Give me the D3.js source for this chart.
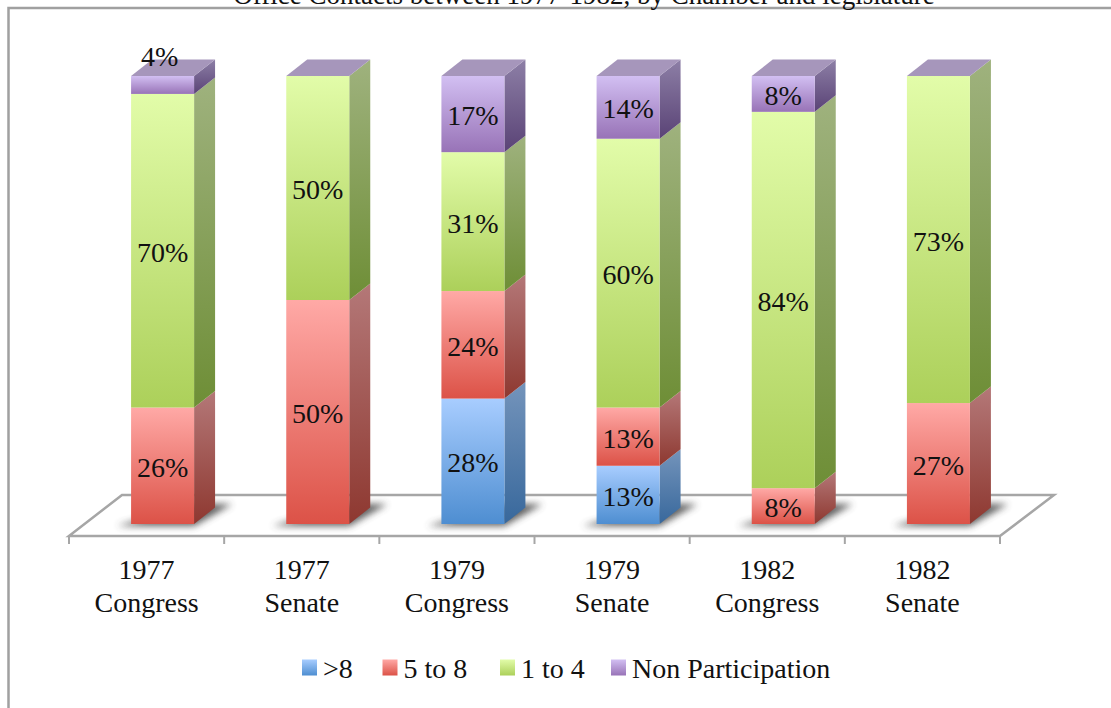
<!DOCTYPE html>
<html><head><meta charset="utf-8">
<script src="https://cdn.jsdelivr.net/npm/d3@7"></script>
<style>html,body{margin:0;padding:0;background:#fff;overflow:hidden}text{font-family:"Liberation Serif",serif;fill:#111}</style>
</head><body><svg id="c" width="1111" height="708"></svg>
<script>
const titleText = "Office Contacts between 1977-1982, by Chamber and legislature";
const categories = ["1977 Congress","1977 Senate","1979 Congress","1979 Senate","1982 Congress","1982 Senate"];
const seriesNames = [">8","5 to 8","1 to 4","Non Participation"];
const over8 = [0,0,28,13,0,0];
const five8 = [26,50,24,13,8,27];
const one4 = [70,50,31,60,84,73];
const nonPart = [4,0,17,14,8,0];
const frontTop = ["#a8cdff","#ffa9a6","#e2fca9","#d2bff2"];
const frontBot = ["#4e8ed1","#dc5247","#acd05a","#9873b7"];
const sideTop = ["#7494bb","#b47878","#9fb27e","#8d7fa6"];
const sideBot = ["#38689c","#8e3830","#6e8e36","#5a4376"];
const topFace = "#a696bb";

const seriesValues = [over8,five8,one4,nonPart];
const svg = d3.select("#c");
const x = d3.scaleBand().domain(categories).range([69,1000]);
const y = d3.scaleLinear().domain([0,100]).range([524,76]);
const barW = 63, dx = 21, dy = 16.5, barShift = 16;
const fontSize = 28;
const barL = c => x(c)+x.bandwidth()/2+barShift-barW/2;
const defs = svg.append("defs");
function grad(id,a,b){
  const g = defs.append("linearGradient").attr("id",id).attr("x1",0).attr("y1",0).attr("x2",0).attr("y2",1);
  g.append("stop").attr("offset",0).attr("stop-color",a);
  g.append("stop").attr("offset",1).attr("stop-color",b);
}
seriesNames.forEach((s,i)=>{grad("f"+i,frontTop[i],frontBot[i]);grad("s"+i,sideTop[i],sideBot[i]);});
defs.append("filter").attr("id","blur").attr("x","-30%").attr("y","-60%").attr("width","160%").attr("height","220%")
  .append("feGaussianBlur").attr("stdDeviation",3.5);

// frame
svg.append("path").attr("d","M8.5,708V8H1111").attr("fill","none").attr("stroke","#a0a0a0").attr("stroke-width",2.5);
// title, cut by the top edge as in the source
svg.append("text").attr("x",584).attr("y",3.5).attr("text-anchor","middle").attr("font-size",27).text(titleText);

// floor
const fy = y(0)+12, by = y(0)-29;
const x0 = x.range()[0], x1 = x.range()[1];
svg.append("polygon")
  .attr("points",[[x0,fy],[x0+53,by],[x1+54,by],[x1,fy]].join(" "))
  .attr("fill","#fff").attr("stroke","#a6a6a6").attr("stroke-width",2.5).attr("stroke-linejoin","miter");
const edges = categories.map(c=>x(c)).concat([x1]);
svg.selectAll("line.tick").data(edges).join("line").attr("class","tick")
  .attr("x1",d=>d).attr("x2",d=>d).attr("y1",fy).attr("y2",fy+8)
  .attr("stroke","#a6a6a6").attr("stroke-width",2);

// shadows
svg.selectAll("polygon.sh").data(categories).join("polygon").attr("class","sh")
  .attr("points",c=>{const l=barL(c);return [[l-14,y(0)+2],[l+barW,y(0)+2],[l+barW+38,y(0)-20],[l+barW,y(0)-20]].join(" ");})
  .attr("fill","#444").attr("opacity",.85).attr("filter","url(#blur)");

// bars
categories.forEach((c,ci)=>{
  const l = barL(c), r = l+barW;
  let acc = 0;
  const g = svg.append("g");
  seriesNames.forEach((s,si)=>{
    const v = seriesValues[si][ci];
    const y0 = y(acc), y1 = y(acc+v);
    acc += v;
    if(!v) return;
    g.append("polygon").attr("points",[[r,y0],[r+dx,y0-dy],[r+dx,y1-dy],[r,y1]].join(" "))
      .attr("fill",`url(#s${si})`);
    g.append("rect").attr("x",l).attr("y",y1).attr("width",barW).attr("height",y0-y1)
      .attr("fill",`url(#f${si})`);
  });
  const t = y(100);
  g.append("polygon").attr("points",[[l,t],[r,t],[r+dx,t-dy],[l+dx,t-dy]].join(" ")).attr("fill",topFace);
});

// value labels
categories.forEach((c,ci)=>{
  const cx = barL(c)+barW/2;
  let acc = 0;
  seriesNames.forEach((s,si)=>{
    const v = seriesValues[si][ci];
    const mid = y(acc+v/2);
    acc += v;
    if(!v) return;
    const small = v<5;
    svg.append("text").attr("x",small?cx-3:cx).attr("y",small?mid-19:mid+11)
      .attr("text-anchor","middle").attr("font-size",fontSize).text(v+"%");
  });
});

// category labels
categories.forEach(c=>{
  const [a,b] = c.split(" ");
  const cx = x(c)+x.bandwidth()/2;
  const t = svg.append("text").attr("text-anchor","middle").attr("font-size",fontSize);
  t.append("tspan").attr("x",cx).attr("y",579).text(a);
  t.append("tspan").attr("x",cx).attr("y",612).text(b);
});

// legend
const legendStarts = [302,382.5,500,611];
seriesNames.forEach((s,i)=>{
  svg.append("rect").attr("x",legendStarts[i]).attr("y",659.5).attr("width",15).attr("height",16).attr("fill",`url(#f${i})`);
  svg.append("text").attr("x",legendStarts[i]+21).attr("y",678).attr("font-size",fontSize).text(s);
});
</script></body></html>
